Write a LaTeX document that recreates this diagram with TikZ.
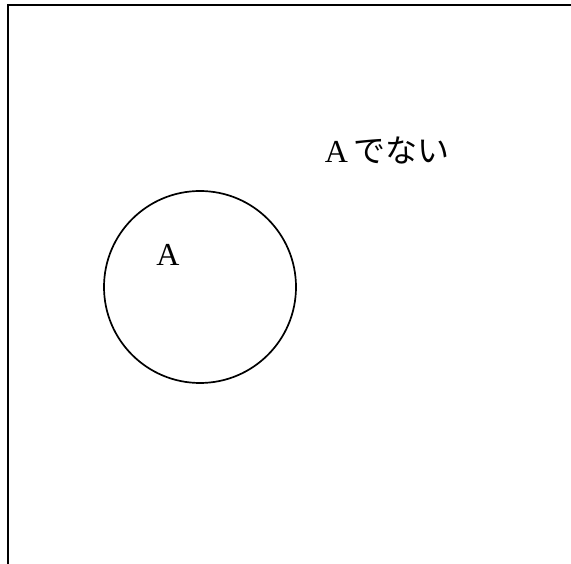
\documentclass[tikz,border=0pt]{standalone}
\usepackage{fontspec}
\setmainfont{Liberation Serif}
\newfontfamily\jpfont{Noto Sans CJK JP}
\begin{document}
\begin{tikzpicture}[x=1pt,y=-1pt,
  frame/.style={line width=2.6pt},
  setc/.style={circle,draw,line width=1.7pt,minimum size=192pt,inner sep=0pt},
  lbl/.style={font=\fontsize{32}{36}\selectfont,inner sep=0pt}]
\useasboundingbox (0,0) rectangle (571,564);
\draw[frame] (8,570) -- (8,5) -- (575,5);
\node[setc] (A) at (200,287) {};
\node[lbl] (Alabel) at (168,255) {A};
\node[lbl] (notA) at (387,150) {A\,{\jpfont でない}};
\end{tikzpicture}
\end{document}
